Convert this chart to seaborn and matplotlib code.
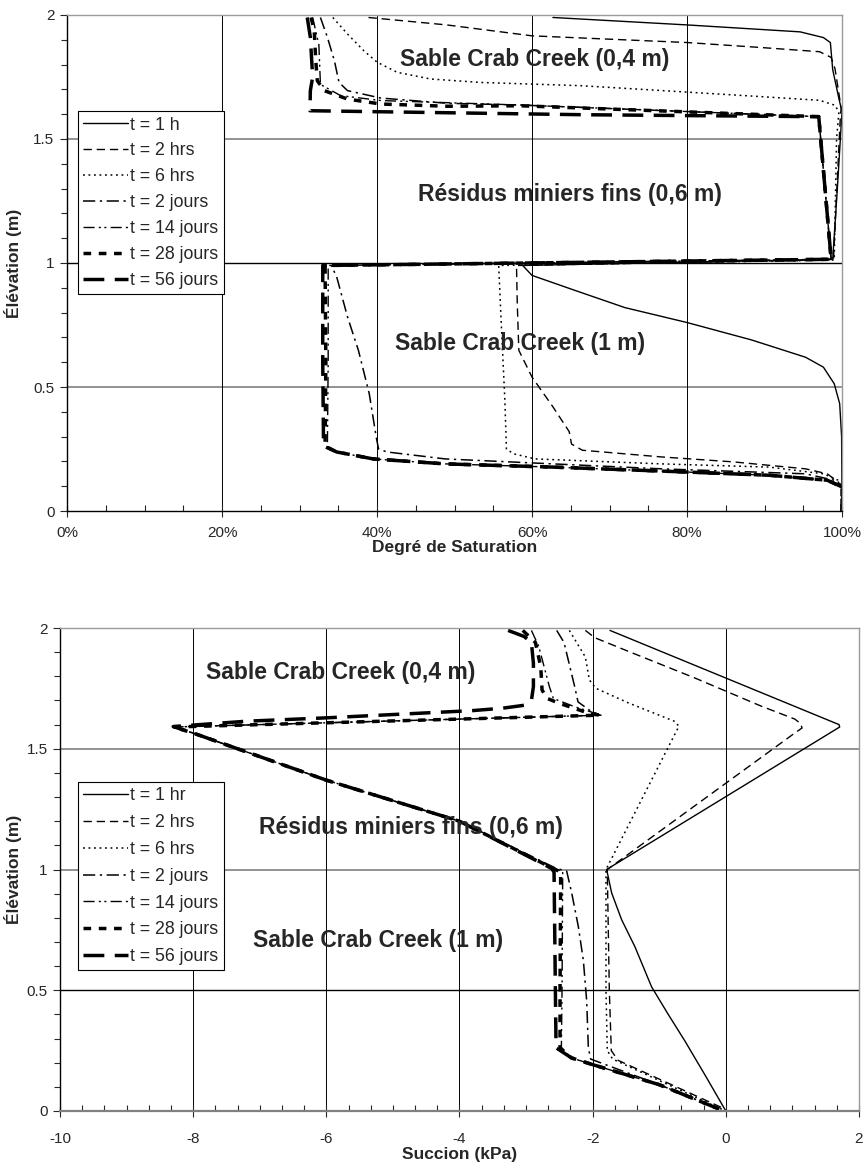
import numpy as np
import pandas as pd
import matplotlib
matplotlib.use("Agg")
import matplotlib.pyplot as plt
import seaborn as sns
from matplotlib.ticker import MultipleLocator, FuncFormatter

# ---------------- data ----------------
labels_sat = ["t = 1 h", "t = 2 hrs", "t = 6 hrs", "t = 2 jours", "t = 14 jours", "t = 28 jours", "t = 56 jours"]
labels_suc = ["t = 1 hr", "t = 2 hrs", "t = 6 hrs", "t = 2 jours", "t = 14 jours", "t = 28 jours", "t = 56 jours"]

# Degree of saturation (%) vs elevation (m)
sat_1h = [62.7, 80.0, 94.6, 97.6, 98.5, 98.8, 99.6, 100.0, 99.4, 98.8, 58.8, 60.0, 65.5, 72.0, 80.0, 88.3, 95.3, 97.6, 99.0, 99.7, 99.95, 100.0]
elev_sat_1h = [1.99, 1.96, 1.932, 1.909, 1.889, 1.78, 1.663, 1.61, 1.30, 1.015, 0.99, 0.95, 0.89, 0.82, 0.76, 0.69, 0.62, 0.58, 0.513, 0.433, 0.30, 0.0]

sat_2h = [38.9, 49.0, 60.0, 80.0, 89.5, 97.1, 98.6, 99.1, 99.9, 99.8, 98.9, 58.0, 58.1, 58.3, 60.0, 62.7, 64.8, 65.1, 66.5, 76.7, 86.0, 95.3, 98.1, 99.5, 100.0, 100.0]
elev_sat_2h = [1.99, 1.96, 1.916, 1.889, 1.869, 1.852, 1.829, 1.783, 1.623, 1.60, 1.013, 0.99, 0.836, 0.648, 0.54, 0.42, 0.32, 0.27, 0.245, 0.218, 0.198, 0.17, 0.15, 0.117, 0.097, 0.0]

sat_6h = [34.3, 36.2, 38.3, 40.0, 42.6, 46.9, 53.4, 66.3, 76.9, 90.0, 97.1, 99.1, 99.6, 99.3, 99.0, 55.7, 56.0, 56.5, 56.7, 57.6, 60.4, 76.7, 90.6, 97.6, 99.5, 100.0, 100.0]
elev_sat_6h = [1.99, 1.923, 1.856, 1.81, 1.769, 1.742, 1.728, 1.715, 1.695, 1.67, 1.656, 1.636, 1.609, 1.50, 1.012, 0.99, 0.78, 0.446, 0.25, 0.231, 0.21, 0.19, 0.177, 0.15, 0.124, 0.097, 0.0]

sat_2j = [32.7, 33.6, 34.5, 35.1, 36.2, 40.5, 49.1, 58.5, 97.0, 98.6, 34.1, 34.8, 36.2, 37.6, 39.0, 39.9, 40.2, 41.3, 48.8, 62.7, 76.7, 95.3, 99.0, 100.0, 100.0]
elev_sat_2j = [1.99, 1.91, 1.816, 1.728, 1.695, 1.665, 1.644, 1.637, 1.59, 1.015, 0.99, 0.944, 0.782, 0.648, 0.473, 0.298, 0.25, 0.238, 0.21, 0.19, 0.17, 0.15, 0.124, 0.097, 0.0]

sat_14j = [31.7, 32.5, 32.7, 35.3, 40.5, 58.5, 97.0, 98.6, 33.7, 33.7, 33.6, 34.8, 39.5, 48.8, 62.7, 76.7, 90.7, 98.1, 100.0, 100.0]
elev_sat_14j = [1.99, 1.88, 1.72, 1.675, 1.655, 1.637, 1.59, 1.015, 0.99, 0.60, 0.26, 0.238, 0.21, 0.19, 0.177, 0.161, 0.144, 0.124, 0.097, 0.0]

sat_28j = [31.5, 31.9, 32.1, 32.3, 33.2, 36.2, 40.5, 49.1, 58.5, 97.0, 98.6, 33.3, 33.4, 33.3, 34.8, 39.5, 48.8, 62.7, 76.7, 90.7, 98.1, 100.0, 100.0]
elev_sat_28j = [1.99, 1.937, 1.816, 1.735, 1.695, 1.661, 1.641, 1.632, 1.634, 1.59, 1.015, 0.99, 0.60, 0.262, 0.238, 0.21, 0.19, 0.177, 0.161, 0.144, 0.124, 0.097, 0.0]

sat_56j = [31.0, 31.4, 31.7, 31.4, 31.35, 66.3, 97.0, 98.6, 33.0, 33.0, 33.1, 34.8, 39.5, 48.8, 62.7, 76.7, 90.7, 98.1, 100.0, 100.0]
elev_sat_56j = [1.99, 1.91, 1.75, 1.695, 1.614, 1.598, 1.59, 1.015, 0.99, 0.60, 0.262, 0.238, 0.21, 0.19, 0.177, 0.161, 0.144, 0.124, 0.097, 0.0]

# Suction (kPa) vs elevation (m)
suc_1h = [-1.74, 1.70, 1.71, -1.79, -1.715, -1.565, -1.365, -1.115, -0.865, -0.615, -0.315, 0.0]
elev_suc_1h = [1.99, 1.60, 1.59, 1.0, 0.903, 0.792, 0.68, 0.514, 0.40, 0.29, 0.15, 0.0]

suc_2h = [-2.11, -1.97, -1.47, -0.465, 0.535, 1.035, 1.12, 1.145, 1.035, -1.78, -1.78, -1.75, -1.72, -1.62, -0.06, 0.0]
elev_suc_2h = [1.99, 1.96, 1.904, 1.793, 1.676, 1.623, 1.605, 1.586, 1.565, 1.0, 0.99, 0.5, 0.25, 0.21, 0.014, 0.0]

suc_6h = [-2.35, -2.11, -2.05, -1.95, -1.465, -0.765, -0.705, -1.80, -1.80, -1.80, -1.78, -1.70, -0.10, 0.0]
elev_suc_6h = [1.99, 1.88, 1.785, 1.75, 1.69, 1.613, 1.593, 1.0, 0.99, 0.5, 0.25, 0.215, 0.012, 0.0]

suc_2j = [-2.54, -2.43, -2.27, -2.22, -2.05, -1.89, -8.30, -8.0, -6.0, -4.0, -2.55, -2.39, -2.315, -2.215, -2.14, -2.09, -2.065, -2.03, -1.0, -0.10]
elev_suc_2j = [1.99, 1.94, 1.757, 1.694, 1.66, 1.639, 1.59, 1.565, 1.37, 1.20, 1.005, 0.993, 0.903, 0.763, 0.624, 0.457, 0.262, 0.215, 0.109, 0.008]

suc_14j = [-2.92, -2.81, -2.65, -2.59, -2.27, -1.95, -1.86, -8.30, -8.0, -6.0, -4.0, -2.58, -2.45, -2.46, -2.47, -2.32, -2.0, -1.0, -0.10]
elev_suc_14j = [1.99, 1.924, 1.757, 1.708, 1.674, 1.646, 1.639, 1.59, 1.565, 1.37, 1.20, 1.005, 0.99, 0.5, 0.262, 0.22, 0.192, 0.109, 0.008]

suc_28j = [-3.05, -2.86, -2.78, -2.76, -2.68, -2.49, -2.27, -2.05, -1.89, -8.30, -8.0, -6.0, -4.0, -2.60, -2.48, -2.49, -2.49, -2.32, -2.0, -1.0, -0.10]
elev_suc_28j = [1.99, 1.94, 1.84, 1.743, 1.708, 1.687, 1.667, 1.646, 1.639, 1.59, 1.565, 1.37, 1.20, 1.005, 0.99, 0.5, 0.262, 0.22, 0.192, 0.109, 0.008]

suc_56j = [-3.27, -3.03, -2.92, -2.89, -2.89, -2.92, -3.03, -3.35, -3.80, -6.0, -7.2, -8.30, -8.0, -6.0, -4.0, -2.62, -2.58, -2.56, -2.55, -2.32, -2.0, -1.0, -0.10]
elev_suc_56j = [1.99, 1.965, 1.94, 1.854, 1.757, 1.70, 1.68, 1.668, 1.658, 1.628, 1.614, 1.592, 1.565, 1.37, 1.20, 1.005, 0.99, 0.5, 0.262, 0.22, 0.192, 0.109, 0.008]

sat_series = [(sat_1h, elev_sat_1h), (sat_2h, elev_sat_2h), (sat_6h, elev_sat_6h), (sat_2j, elev_sat_2j),
              (sat_14j, elev_sat_14j), (sat_28j, elev_sat_28j), (sat_56j, elev_sat_56j)]
suc_series = [(suc_1h, elev_suc_1h), (suc_2h, elev_suc_2h), (suc_6h, elev_suc_6h), (suc_2j, elev_suc_2j),
              (suc_14j, elev_suc_14j), (suc_28j, elev_suc_28j), (suc_56j, elev_suc_56j)]

layer_labels = ["Sable Crab Creek (0,4 m)", "Résidus miniers fins (0,6 m)", "Sable Crab Creek (1 m)"]

# ---------------- styling ----------------
sns.set_theme(style="ticks")
plt.rcParams["font.family"] = ["Liberation Sans", "DejaVu Sans"]
plt.rcParams["axes.unicode_minus"] = False

line_styles = [
    dict(linestyle="-", linewidth=1.0),
    dict(linestyle=(0, (6, 3.5)), linewidth=1.0),
    dict(linestyle=(0, (1.2, 2.4)), linewidth=1.1),
    dict(linestyle=(0, (8, 3, 1.5, 3)), linewidth=1.1),
    dict(linestyle=(0, (8, 3, 1.5, 2.5, 1.5, 3)), linewidth=1.0),
    dict(linestyle=(0, (2.2, 2.2)), linewidth=2.5),
    dict(linestyle=(0, (6, 3)), linewidth=2.5),
]

ANN = 16.5
LEG = 12.8
AXL = 12.5

fig = plt.figure(figsize=(8.64, 11.71), dpi=100)
ax1 = fig.add_axes([67 / 864, 1 - 511 / 1171, 775 / 864, 496 / 1171])
ax2 = fig.add_axes([60 / 864, 1 - 1111 / 1171, 799 / 864, 483 / 1171])


def style_axes(ax, hgrid_colors, xpad):
    for side in ["top", "right"]:
        ax.spines[side].set_visible(True)
        ax.spines[side].set_color("#9a9a9a")
        ax.spines[side].set_linewidth(1.0)
    for side in ["left", "bottom"]:
        ax.spines[side].set_color("black")
        ax.spines[side].set_linewidth(1.0)
    ax.set_ylim(0, 2)
    ax.yaxis.set_major_locator(MultipleLocator(0.5))
    ax.yaxis.set_minor_locator(MultipleLocator(0.1))
    ax.yaxis.set_major_formatter(FuncFormatter(lambda v, p: f"{v:g}"))
    ax.tick_params(axis="y", which="major", direction="out", length=5, width=0.8, labelsize=11, pad=4)
    ax.tick_params(axis="y", which="minor", direction="out", length=4, width=0.8)
    ax.tick_params(axis="x", which="major", direction="inout", length=8, width=0.8, labelsize=11, pad=xpad)
    ax.tick_params(axis="x", which="minor", direction="in", length=4, width=0.8)
    ax.grid(True, axis="x", which="major", color="black", linewidth=0.7)
    for yv, col in hgrid_colors:
        ax.axhline(yv, color=col, linewidth=1.0 if col == "black" else 1.3, zorder=0.5)


def draw(ax, series, labels):
    handles = []
    for (xs, ys), lab, st in zip(series, labels, line_styles):
        sns.lineplot(x=xs, y=ys, sort=False, estimator=None, color="black", ax=ax,
                     label=lab, legend=False, **st)
        handles.append(ax.get_lines()[-1])
    return handles


def add_legend(ax, handles, labels, anchor, spacing):
    leg = ax.legend(handles=handles, labels=labels, loc="upper left", bbox_to_anchor=anchor,
                    fontsize=LEG, frameon=True, fancybox=False, framealpha=1, edgecolor="black",
                    handlelength=2.5, handletextpad=0.15, borderpad=0.3, labelspacing=spacing,
                    borderaxespad=0)
    leg.get_frame().set_linewidth(0.8)
    return leg


# ---------------- top chart: saturation ----------------
h1 = draw(ax1, sat_series, labels_sat)
ax1.set_xlim(0, 100)
ax1.xaxis.set_major_locator(MultipleLocator(20))
ax1.xaxis.set_minor_locator(MultipleLocator(5))
ax1.xaxis.set_major_formatter(FuncFormatter(lambda v, p: f"{v:.0f}%"))
style_axes(ax1, [(1.5, "#8a8a8a"), (1.0, "black"), (0.5, "#8a8a8a")], xpad=7)
ax1.set_xlabel("Degré de Saturation", fontsize=AXL, fontweight="bold", labelpad=0)
ax1.set_ylabel("Élévation (m)", fontsize=AXL, fontweight="bold")
ax1.yaxis.set_label_coords(-0.058, 0.5)
ax1.text(60.4, 1.82, layer_labels[0], fontsize=ANN, fontweight="bold", ha="center", va="center")
ax1.text(64.9, 1.278, layer_labels[1], fontsize=ANN, fontweight="bold", ha="center", va="center")
ax1.text(58.5, 0.677, layer_labels[2], fontsize=ANN, fontweight="bold", ha="center", va="center")
add_legend(ax1, h1, labels_sat, (0.014, 0.806), 0.5)

# ---------------- bottom chart: suction ----------------
h2 = draw(ax2, suc_series, labels_suc)
ax2.set_xlim(-10, 2)
ax2.xaxis.set_major_locator(MultipleLocator(2))
ax2.xaxis.set_minor_locator(MultipleLocator(1 / 3))
ax2.xaxis.set_major_formatter(FuncFormatter(lambda v, p: f"{v:g}"))
style_axes(ax2, [(1.5, "#8a8a8a"), (1.0, "#8a8a8a"), (0.5, "black")], xpad=11)
ax2.spines["bottom"].set_color("#808080")
ax2.spines["bottom"].set_linewidth(1.6)
ax2.set_xlabel("Succion (kPa)", fontsize=AXL, fontweight="bold", labelpad=1)
ax2.set_ylabel("Élévation (m)", fontsize=AXL, fontweight="bold")
ax2.yaxis.set_label_coords(-0.0476, 0.5)
ax2.text(-5.79, 1.814, layer_labels[0], fontsize=ANN, fontweight="bold", ha="center", va="center")
ax2.text(-4.73, 1.172, layer_labels[1], fontsize=ANN, fontweight="bold", ha="center", va="center")
ax2.text(-5.22, 0.704, layer_labels[2], fontsize=ANN, fontweight="bold", ha="center", va="center")
add_legend(ax2, h2, labels_suc, (0.0225, 0.681), 0.55)

fig.savefig("out.png", dpi=100)
